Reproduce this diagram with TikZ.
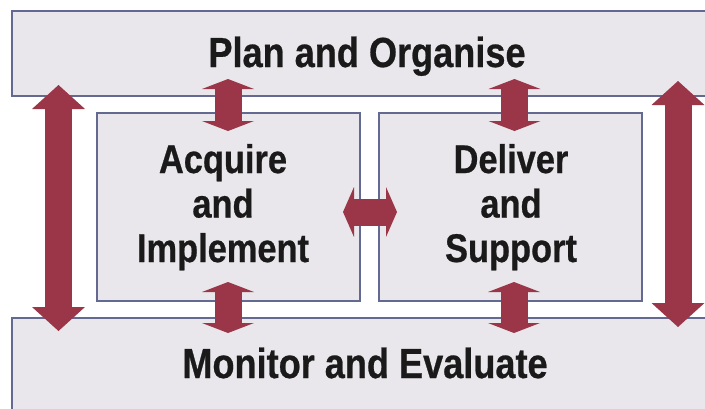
\documentclass[tikz,border=0pt]{standalone}
\usepackage{fontspec}
\newfontfamily\cfont{Liberation Sans}[FakeStretch=0.86, BoldFeatures={FakeBold=0.6}]
\usetikzlibrary{arrows.meta}
\definecolor{arrowred}{RGB}{155,53,72}
\definecolor{boxfill}{RGB}{233,231,235}
\definecolor{boxline}{RGB}{100,105,145}
\definecolor{txt}{RGB}{26,26,26}
\tikzset{
  box/.style={draw=boxline, fill=boxfill, line width=1.2pt, inner sep=0pt, outer sep=0pt},
  bigtxt/.style={text=txt, inner sep=0pt, font=\cfont\bfseries\fontsize{42}{46}\selectfont},
  midtxt/.style={text=txt, inner sep=0pt, align=center, font=\cfont\bfseries\fontsize{40}{44.5}\selectfont},
  bigarrow/.style={draw=arrowred, line width=27pt, line cap=butt,
    arrows={Triangle[length=24pt,width=53pt,line width=0pt]-Triangle[length=24pt,width=53pt,line width=0pt]}},
  smallarrow/.style={draw=arrowred, line width=27pt, line cap=butt,
    arrows={Triangle[length=10pt,width=52pt,line width=0pt]-Triangle[length=10pt,width=52pt,line width=0pt]}},
  sidearrow/.style={draw=arrowred, line width=27pt, line cap=butt,
    arrows={Triangle[length=11pt,width=50pt,line width=0pt]-Triangle[length=11pt,width=50pt,line width=0pt]}}
}
\begin{document}
\begin{tikzpicture}[x=1pt,y=-1pt]
\useasboundingbox[fill=white] (0,0) rectangle (705,408);
\clip (0,0) rectangle (705,408);
% boxes
\node[box, minimum width=710pt, minimum height=85pt, anchor=north west] (plan) at (12,11) {};
\node[box, minimum width=708pt, minimum height=102pt, anchor=north west] (monitor) at (12,318) {};
\node[box, minimum width=263pt, minimum height=188pt, anchor=north west] (acquire) at (97,113) {};
\node[box, minimum width=263pt, minimum height=188pt, anchor=north west] (deliver) at (379,113) {};
% texts
\node[bigtxt, anchor=base] (plantxt) at (367,67) {Plan and Organise};
\node[bigtxt, anchor=base] (montxt) at (365,378) {Monitor and Evaluate};
\node[midtxt, anchor=base] (acqtxt) at (223,262) {Acquire\\and\\Implement};
\node[midtxt, anchor=base] (deltxt) at (511,262) {Deliver\\and\\Support};
% arrow end points
\coordinate (L1) at (58.5,85);  \coordinate (L2) at (58.5,331);
\coordinate (R1) at (678,81);   \coordinate (R2) at (678,327);
\coordinate (A1) at (228,79);   \coordinate (A2) at (228,131);
\coordinate (D1) at (514.5,79); \coordinate (D2) at (514.5,131);
\coordinate (A3) at (228,282);  \coordinate (A4) at (228,333);
\coordinate (D3) at (514,282);  \coordinate (D4) at (514,333);
\coordinate (H1) at (343,212);  \coordinate (H2) at (397,212);
% arrows
\draw[bigarrow] (L1) -- (L2);
\draw[bigarrow] (R1) -- (R2);
\draw[smallarrow] (A1) -- (A2);
\draw[smallarrow] (D1) -- (D2);
\draw[smallarrow] (A3) -- (A4);
\draw[smallarrow] (D3) -- (D4);
\draw[sidearrow] (H1) -- (H2);
\end{tikzpicture}
\end{document}
